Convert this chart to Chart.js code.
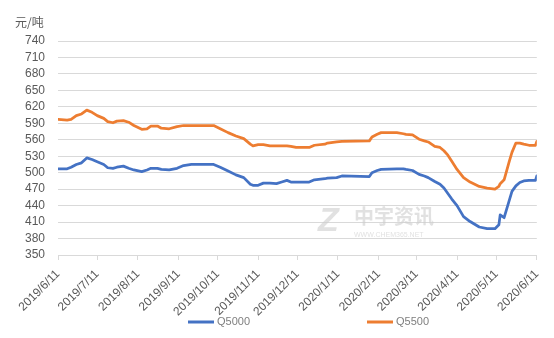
<!DOCTYPE html>
<html>
<head>
<meta charset="utf-8">
<title>Q5000 / Q5500 价格走势</title>
<script src="https://cdn.jsdelivr.net/npm/chart.js@4/dist/chart.umd.min.js"></script>
<style>
  html, body { margin: 0; padding: 0; background: #ffffff; }
  #wrap { width: 554px; height: 338px; position: relative; }
</style>
</head>
<body>
<div id="wrap"><canvas id="c"></canvas></div>
<script>
// Sample dates (yyyy-mm-dd)
const dates = [
  '2019-06-11','2019-06-18','2019-06-21','2019-06-25','2019-06-29','2019-07-03','2019-07-07','2019-07-11',
  '2019-07-16','2019-07-19','2019-07-23','2019-07-26','2019-07-31','2019-08-04','2019-08-08','2019-08-14',
  '2019-08-18','2019-08-21','2019-08-26','2019-08-29','2019-09-04','2019-09-10','2019-09-15','2019-09-21',
  '2019-10-08','2019-10-13','2019-10-19','2019-10-25','2019-10-31','2019-11-05','2019-11-07','2019-11-11',
  '2019-11-15','2019-11-20','2019-11-25','2019-11-29','2019-12-03','2019-12-06','2019-12-10','2019-12-20',
  '2019-12-24','2020-01-01','2020-01-03','2020-01-10','2020-01-14','2020-02-04','2020-02-06','2020-02-10',
  '2020-02-13','2020-02-25','2020-03-01','2020-03-03','2020-03-08','2020-03-13','2020-03-17','2020-03-20',
  '2020-03-25','2020-03-29','2020-04-01','2020-04-04','2020-04-07','2020-04-11','2020-04-16','2020-04-21',
  '2020-04-28','2020-05-04','2020-05-10','2020-05-13','2020-05-14','2020-05-17','2020-05-21','2020-05-23',
  '2020-05-26','2020-05-29','2020-06-01','2020-06-05','2020-06-10','2020-06-11'
];

// Q5000 price, 元/吨
const q5000 = [
  507,507,510,515,518,527,524,520,
  515,509,508,510,512,508,505,502,
  505,508,508,506,505,508,513,515,
  515,510,503,496,491,479,477,477,
  481,481,480,483,486,483,483,483,
  487,489,490,491,494,493,500,504,
  506,507,507,506,504,497,494,491,
  484,479,472,462,452,440,420,411,
  401,398,398,405,423,418,450,466,
  476,482,485,486,486,494
];

// Q5500 price, 元/吨
const q5500 = [
  597,596,597,604,607,614,610,604,
  599,593,591,594,595,592,586,579,
  580,585,585,581,580,584,586,586,
  586,580,573,567,562,552,549,551,
  551,549,549,549,549,548,546,546,
  550,552,554,556,557,558,565,570,
  573,573,571,570,569,561,558,556,
  548,546,540,532,521,506,491,483,
  475,472,470,475,480,487,521,537,
  554,554,552,550,550,557
];

// Category-axis tick labels
const xTickLabels = [
  '2019/6/11','2019/7/11','2019/8/11','2019/9/11','2019/10/11','2019/11/11','2019/12/11',
  '2020/1/11','2020/2/11','2020/3/11','2020/4/11','2020/5/11','2020/6/11'
];

const seriesNames = ['Q5000', 'Q5500'];
const seriesColors = ['#4472C4', '#ED7D31'];

// ---- helpers: dates become day offsets from the first tick ----
function toUTC(str) {
  const p = str.split(/[-\/]/).map(Number);
  return Date.UTC(p[0], p[1] - 1, p[2]);
}
const DAY = 86400000;
const origin = toUTC(xTickLabels[0]);
const dayOf = s => (toUTC(s) - origin) / DAY;
const tickDays = xTickLabels.map(dayOf);

const FONT = "'Liberation Sans', 'Noto Sans CJK SC', Arial, sans-serif";
const CJK = "'Noto Sans CJK SC', 'Liberation Sans', sans-serif";

const pts = arr => dates.map((d, i) => ({ x: dayOf(d), y: arr[i] }));

// Unit label, faint watermark and bottom legend
const decor = {
  id: 'decor',
  beforeDatasetsDraw(chart) {
    const ctx = chart.ctx;
    ctx.save();
    ctx.fillStyle = 'rgba(205,205,205,0.6)';
    ctx.textBaseline = 'alphabetic';
    ctx.textAlign = 'left';
    ctx.font = 'italic bold 34px ' + FONT;
    ctx.fillText('Z', 318, 231);
    ctx.font = 'bold 20px ' + CJK;
    ctx.fillText('中宇资讯', 354, 224);
    ctx.font = '7px ' + FONT;
    ctx.fillText('WWW.CHEM365.NET', 354, 237);
    ctx.restore();
  },
  afterDraw(chart) {
    const ctx = chart.ctx;
    ctx.save();
    // unit
    ctx.fillStyle = '#595959';
    ctx.font = '12px ' + CJK;
    ctx.textBaseline = 'middle';
    ctx.textAlign = 'left';
    ctx.fillText('元/吨', 15, 22);
    // legend
    const items = [[188, 214], [367, 393]];
    ctx.font = '11px ' + FONT;
    ctx.lineWidth = 3;
    chart.data.datasets.forEach((ds, i) => {
      const [x0, x1] = items[i];
      ctx.strokeStyle = ds.borderColor;
      ctx.beginPath();
      ctx.moveTo(x0, 322);
      ctx.lineTo(x1, 322);
      ctx.stroke();
      ctx.fillStyle = '#7f7f7f';
      ctx.fillText(ds.label, x1 + 3, 322);
    });
    ctx.restore();
  }
};

new Chart(document.getElementById('c'), {
  type: 'line',
  data: {
    datasets: [
      { label: seriesNames[0], data: pts(q5000), borderColor: seriesColors[0], backgroundColor: seriesColors[0] },
      { label: seriesNames[1], data: pts(q5500), borderColor: seriesColors[1], backgroundColor: seriesColors[1] }
    ]
  },
  options: {
    responsive: true,
    maintainAspectRatio: false,
    animation: false,
    events: [],
    layout: { padding: { left: 0, right: 14, top: 41, bottom: 0 } },
    elements: {
      line: { borderWidth: 2.75, tension: 0, borderCapStyle: 'round', borderJoinStyle: 'round' },
      point: { radius: 0 }
    },
    plugins: { legend: { display: false }, tooltip: { enabled: false }, title: { display: false } },
    scales: {
      x: {
        type: 'linear',
        min: tickDays[0],
        max: tickDays[tickDays.length - 1],
        afterBuildTicks(scale) { scale.ticks = tickDays.map(v => ({ value: v })); },
        afterFit(scale) { scale.height = 83; },
        ticks: {
          autoSkip: false,
          minRotation: 45,
          maxRotation: 45,
          padding: 7,
          color: '#595959',
          font: { family: FONT, size: 12 },
          callback(v) { const i = tickDays.indexOf(v); return i >= 0 ? xTickLabels[i] : ''; }
        },
        grid: { drawOnChartArea: false, drawTicks: true, tickLength: 5, color: '#d9d9d9' },
        border: { display: true, color: '#d9d9d9', width: 1 }
      },
      y: {
        min: 350,
        max: 740,
        afterFit(scale) { scale.width = 58; },
        ticks: {
          stepSize: 30,
          autoSkip: false,
          padding: 13,
          color: '#595959',
          font: { family: FONT, size: 12 }
        },
        grid: { color: '#d9d9d9', drawTicks: false },
        border: { display: false }
      }
    }
  },
  plugins: [decor]
});
</script>
</body>
</html>
